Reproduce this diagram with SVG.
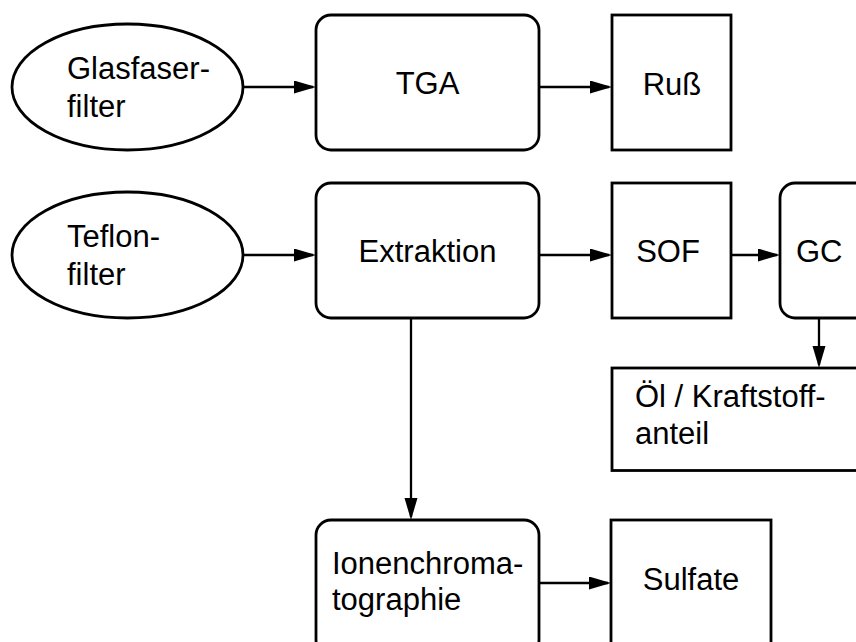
<svg xmlns="http://www.w3.org/2000/svg" width="856" height="642" viewBox="0 0 856 642">
<style>
.shape{fill:#fff;stroke:#000;stroke-width:2.8}
.conn{fill:none;stroke:#000;stroke-width:2.3}
text{font-family:"Liberation Sans",Arial,sans-serif;font-size:31px;fill:#000}
.c{text-anchor:middle}
</style>
<defs>
<marker id="arr" markerUnits="userSpaceOnUse" markerWidth="22" markerHeight="14" refX="19" refY="6.5" orient="auto">
<path d="M0,0 L22,6.5 L0,13 z" fill="#000"/>
</marker>
</defs>
<rect width="856" height="642" fill="#fff"/>
<g id="connectors">
<line class="conn" x1="243" y1="87" x2="313" y2="87" marker-end="url(#arr)"/>
<line class="conn" x1="539" y1="87" x2="609" y2="87" marker-end="url(#arr)"/>
<line class="conn" x1="243" y1="255" x2="313" y2="255" marker-end="url(#arr)"/>
<line class="conn" x1="539" y1="255" x2="609" y2="255" marker-end="url(#arr)"/>
<line class="conn" x1="731" y1="255" x2="777" y2="255" marker-end="url(#arr)"/>
<line class="conn" x1="819" y1="318" x2="819" y2="365" marker-end="url(#arr)"/>
<line class="conn" x1="411" y1="318" x2="411" y2="517" marker-end="url(#arr)"/>
<line class="conn" x1="539" y1="583" x2="608" y2="583" marker-end="url(#arr)"/>
</g>
<g id="glasfaserfilter">
<ellipse class="shape" cx="127.5" cy="87" rx="115.5" ry="63"/>
<text x="67" y="79">Glasfaser-</text>
<text x="67" y="117">filter</text>
</g>
<g id="tga">
<rect class="shape" x="316" y="15" width="223" height="135" rx="15"/>
<text class="c" x="427.5" y="94">TGA</text>
</g>
<g id="russ">
<rect class="shape" x="612" y="15" width="119" height="135"/>
<text class="c" x="672" y="95">Ruß</text>
</g>
<g id="teflonfilter">
<ellipse class="shape" cx="127.5" cy="255" rx="115.5" ry="63"/>
<text x="67" y="247">Teflon-</text>
<text x="67" y="285">filter</text>
</g>
<g id="extraktion">
<rect class="shape" x="316" y="183" width="223" height="135" rx="15"/>
<text class="c" x="427.5" y="262">Extraktion</text>
</g>
<g id="sof">
<rect class="shape" x="612" y="183" width="119" height="135"/>
<text class="c" x="668" y="262">SOF</text>
</g>
<g id="gc">
<rect class="shape" x="780" y="183" width="130" height="135" rx="15"/>
<text x="796" y="262">GC</text>
</g>
<g id="oel">
<rect class="shape" x="612" y="368" width="300" height="102.5"/>
<text x="635" y="407">Öl / Kraftstoff-</text>
<text x="635" y="444">anteil</text>
</g>
<g id="ionenchromatographie">
<rect class="shape" x="316" y="520" width="223" height="135" rx="15"/>
<text x="332" y="574">Ionenchroma-</text>
<text x="332" y="610">tographie</text>
</g>
<g id="sulfate">
<rect class="shape" x="611" y="520" width="160" height="135"/>
<text class="c" x="691" y="590">Sulfate</text>
</g>
</svg>
